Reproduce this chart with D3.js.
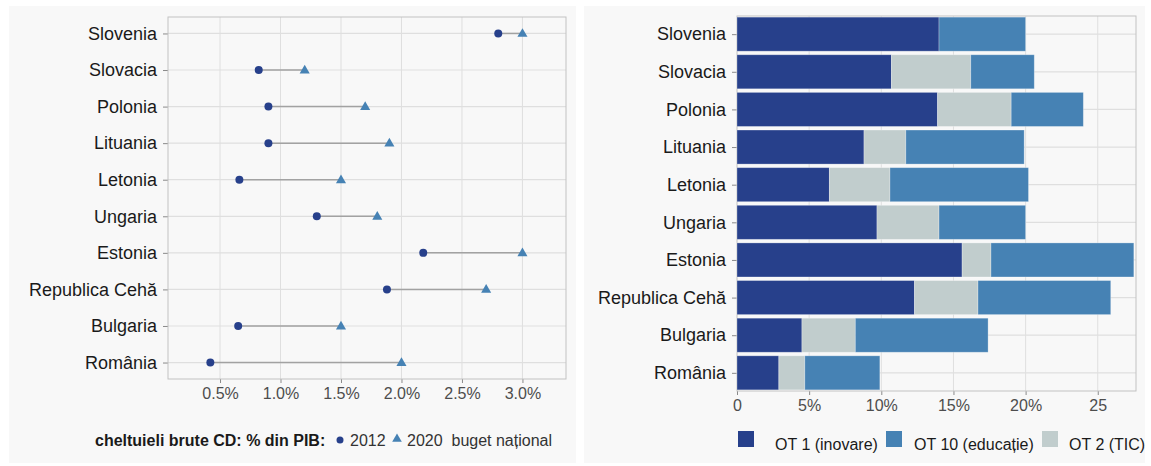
<!DOCTYPE html>
<html><head><meta charset="utf-8">
<script src="https://cdn.jsdelivr.net/npm/d3@7"></script>
<style>
body{margin:0;background:#fff;}
text{font-family:"Liberation Sans",Arial,sans-serif;}
</style></head>
<body><svg id="c" width="1151" height="466"></svg>
<script>
// ---- data ----
const countries = ["Slovenia","Slovacia","Polonia","Lituania","Letonia","Ungaria","Estonia","Republica Cehă","Bulgaria","România"];
const gerd2012 = [2.80,0.82,0.90,0.90,0.66,1.30,2.18,1.88,0.65,0.42];
const target2020 = [3.0,1.2,1.7,1.9,1.5,1.8,3.0,2.7,1.5,2.0];
const leftTicks = [0.5,1.0,1.5,2.0,2.5,3.0];
const leftTickLabels = ["0.5%","1.0%","1.5%","2.0%","2.5%","3.0%"];

const ot1 = [14.0,10.7,13.9,8.8,6.4,9.7,15.6,12.3,4.5,2.9];
const ot2 = [0.0,5.5,5.1,2.9,4.2,4.3,2.0,4.4,3.7,1.8];
const ot10 = [6.0,4.4,5.0,8.2,9.6,6.0,9.9,9.2,9.2,5.2];
const rightTicks = [0,5,10,15,20,25];
const rightTickLabels = ["0","5%","10%","15%","20%","25"];
const seriesKeys = ["OT 1 (inovare)","OT 2 (TIC)","OT 10 (educație)"];
const legendOrder = ["OT 1 (inovare)","OT 10 (educație)","OT 2 (TIC)"];
const legendLeftTitle = "cheltuieli brute CD: % din PIB:";
const legendLeftItems = ["2012","2020  buget național"];

// ---- styles ----
const C_DOT = "#27408b", C_TRI = "#4682b4", C_OT2 = "#c1cdcd";
const colors = {"OT 1 (inovare)":C_DOT,"OT 2 (TIC)":C_OT2,"OT 10 (educație)":C_TRI};
const GRID = "#dfdfdf", BORDER = "#c2c2c2", BG = "#f8f8f8";

const svg = d3.select("#c");

// backgrounds
svg.append("rect").attr("x",9).attr("y",6).attr("width",567).attr("height",457).attr("fill",BG);
svg.append("rect").attr("x",584).attr("y",6).attr("width",561).attr("height",457).attr("fill",BG);

// ===== LEFT PANEL =====
const L = {x0:168,x1:566,y0:17,y1:379};
const xL = d3.scaleLinear().domain([0.07,3.36]).range([L.x0,L.x1]);
const yL = d3.scalePoint().domain(countries).range([L.y0,L.y1]).padding(0.45);
const gL = svg.append("g");
// grid
gL.selectAll(".vg").data(leftTicks).join("line")
  .attr("x1",d=>xL(d)).attr("x2",d=>xL(d)).attr("y1",L.y0).attr("y2",L.y1)
  .attr("stroke",GRID).attr("stroke-width",1);
gL.selectAll(".hg").data(countries).join("line")
  .attr("x1",L.x0).attr("x2",L.x1).attr("y1",d=>yL(d)).attr("y2",d=>yL(d))
  .attr("stroke",GRID).attr("stroke-width",1.2);
// axes
const axL = d3.axisBottom(xL).tickValues(leftTicks).tickFormat((d,i)=>leftTickLabels[i]).tickSize(4).tickPadding(5);
const gxL = gL.append("g").attr("transform",`translate(0,${L.y1})`).call(axL);
const ayL = d3.axisLeft(yL).tickSize(5).tickPadding(6);
const gyL = gL.append("g").attr("transform",`translate(${L.x0},0)`).call(ayL);
// border
gL.append("rect").attr("x",L.x0).attr("y",L.y0).attr("width",L.x1-L.x0).attr("height",L.y1-L.y0)
  .attr("fill","none").attr("stroke",BORDER).attr("stroke-width",1);
// segments
gL.selectAll(".seg").data(countries).join("line")
  .attr("x1",(d,i)=>xL(gerd2012[i])).attr("x2",(d,i)=>xL(target2020[i]))
  .attr("y1",d=>yL(d)).attr("y2",d=>yL(d))
  .attr("stroke","#a2a2a2").attr("stroke-width",1.5);
gL.selectAll(".dot").data(countries).join("circle")
  .attr("cx",(d,i)=>xL(gerd2012[i])).attr("cy",d=>yL(d)).attr("r",4).attr("fill",C_DOT);
const tri = d3.symbol().type(d3.symbolTriangle).size(44);
gL.selectAll(".tri").data(countries).join("path")
  .attr("d",tri).attr("transform",(d,i)=>`translate(${xL(target2020[i])},${yL(d)+0.5})`).attr("fill",C_TRI);

// ===== RIGHT PANEL =====
const R = {x0:737,x1:1136,y0:16,y1:391};
const xR = d3.scaleLinear().domain([0,27.65]).range([R.x0,R.x1]);
const yR = d3.scaleBand().domain(countries).range([R.y0,R.y1]).paddingInner(0.095).paddingOuter(0.03);
const gR = svg.append("g");
gR.selectAll(".vg").data(rightTicks.slice(1)).join("line")
  .attr("x1",d=>xR(d)).attr("x2",d=>xR(d)).attr("y1",R.y0).attr("y2",R.y1)
  .attr("stroke",GRID).attr("stroke-width",1);
gR.selectAll(".hg").data(countries).join("line")
  .attr("x1",R.x0).attr("x2",R.x1).attr("y1",d=>yR(d)+yR.bandwidth()/2).attr("y2",d=>yR(d)+yR.bandwidth()/2)
  .attr("stroke",GRID).attr("stroke-width",1.2);
const axR = d3.axisBottom(xR).tickValues(rightTicks).tickFormat((d,i)=>rightTickLabels[i]).tickSize(4).tickPadding(5);
const gxR = gR.append("g").attr("transform",`translate(0,${R.y1})`).call(axR);
const bandY = d3.scalePoint().domain(countries).range([yR(countries[0])+yR.bandwidth()/2, yR(countries[9])+yR.bandwidth()/2]);
const ayR = d3.axisLeft(bandY).tickSize(5).tickPadding(6);
const gyR = gR.append("g").attr("transform",`translate(${R.x0},0)`).call(ayR);
gR.append("rect").attr("x",R.x0).attr("y",R.y0).attr("width",R.x1-R.x0).attr("height",R.y1-R.y0)
  .attr("fill","none").attr("stroke",BORDER).attr("stroke-width",1);
// stacked bars
const rows = countries.map((c,i)=>({country:c,"OT 1 (inovare)":ot1[i],"OT 2 (TIC)":ot2[i],"OT 10 (educație)":ot10[i]}));
const stack = d3.stack().keys(seriesKeys)(rows);
gR.selectAll(".ser").data(stack).join("g").attr("fill",d=>colors[d.key])
  .selectAll("rect").data(d=>d.filter(p=>p[1]-p[0]>0)).join("rect")
  .attr("x",d=>xR(d[0])).attr("width",d=>xR(d[1])-xR(d[0]))
  .attr("y",d=>yR(d.data.country)).attr("height",yR.bandwidth())
  .attr("stroke","#ffffff").attr("stroke-opacity",0.35).attr("stroke-width",0.8);

// axis styling
[gxL,gyL,gxR,gyR].forEach(g=>{
  g.select(".domain").remove();
  g.selectAll(".tick line").attr("stroke","#8a8a8a");
});
[gyL,gyR].forEach(g=>g.selectAll(".tick text").attr("font-size",18).attr("fill","#1a1a1a"));
[gxL,gxR].forEach(g=>g.selectAll(".tick text").attr("font-size",16).attr("fill","#4d4d4d"));

// ===== LEGENDS =====
const lg = svg.append("g");
const ly = 440;
lg.append("text").attr("x",95).attr("y",ly).attr("dy","0.35em")
  .attr("font-size",16).attr("font-weight","bold").attr("fill","#1a1a1a").text(legendLeftTitle);
lg.append("circle").attr("cx",340).attr("cy",ly).attr("r",3.5).attr("fill",C_DOT);
lg.append("text").attr("x",350).attr("y",ly).attr("dy","0.35em").attr("font-size",16).attr("fill","#333")
  .text(legendLeftItems[0]);
lg.append("path").attr("d",d3.symbol().type(d3.symbolTriangle).size(40)).attr("transform",`translate(397,${ly-1})`).attr("fill",C_TRI);
lg.append("text").attr("x",407).attr("y",ly).attr("dy","0.35em").attr("font-size",16).attr("fill","#333")
  .style("white-space","pre").text(legendLeftItems[1]);

const rl = svg.append("g");
const sqX = [738,886,1042], txX = [775,914,1069];
legendOrder.forEach((k,i)=>{
  rl.append("rect").attr("x",sqX[i]).attr("y",431).attr("width",16).attr("height",16).attr("fill",colors[k]);
  rl.append("text").attr("x",txX[i]).attr("y",444).attr("dy","0.35em").attr("font-size",16).attr("fill","#1a1a1a").text(k);
});
</script></body></html>
